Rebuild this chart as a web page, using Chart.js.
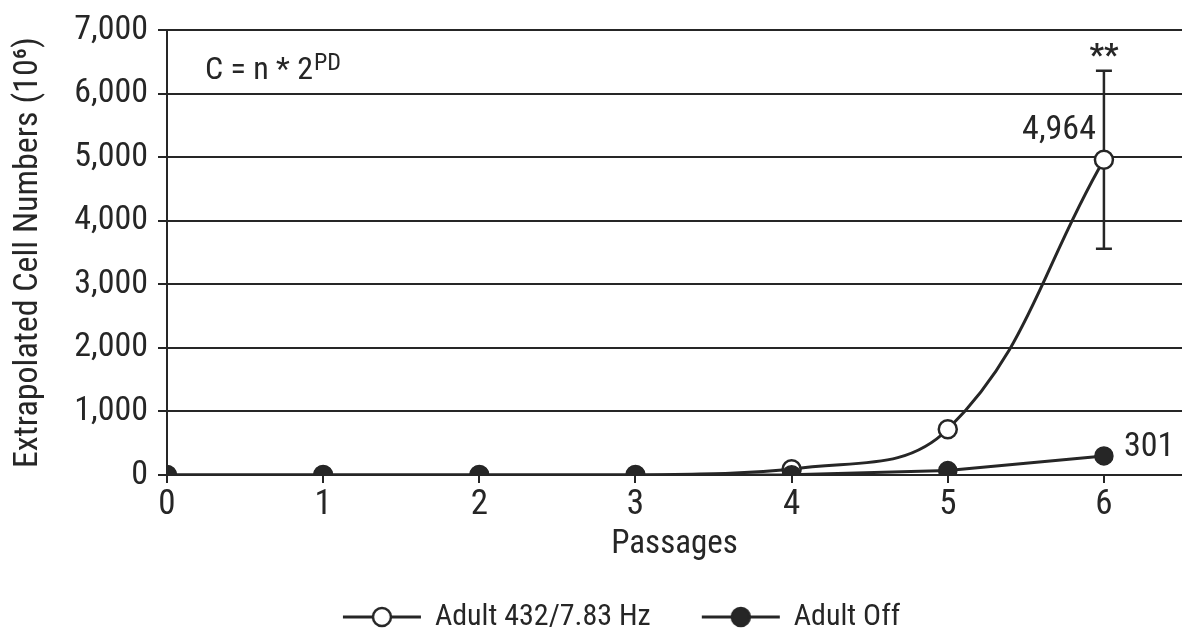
<!DOCTYPE html>
<html>
<head>
<meta charset="utf-8">
<script src="https://cdn.jsdelivr.net/npm/chart.js@4"></script>
<style>
  html, body { margin: 0; padding: 0; background: #fff; }
  #wrap { width: 1182px; height: 642px; overflow: hidden; }
</style>
</head>
<body>
<div id="wrap"><canvas id="c" width="1182" height="642"></canvas></div>
<script>
// Passage numbers and extrapolated cell counts (10^6)
const passages = [0, 1, 2, 3, 4, 5, 6];
const adult432 = [0, 0, 0, 0, 90, 720, 4964];
const adultOff = [0, 0, 0, 0, 5, 70, 301];
const adult432Err = [0, 0, 0, 0, 0, 0, 1400];
const yTicks = [0, 1000, 2000, 3000, 4000, 5000, 6000, 7000];
const labelNames = ['Adult 432/7.83 Hz', 'Adult Off'];

const FONT = '"Roboto Condensed", "DejaVu Sans Condensed", sans-serif';
const INK = '#262626';
const LEGEND_LEFT_INSET = 62;

// line-and-marker glyph used in the legend
function legendSymbol(filled) {
  const cv = document.createElement('canvas');
  cv.width = 80; cv.height = 24;
  const g = cv.getContext('2d');
  g.strokeStyle = INK; g.lineWidth = 3;
  g.beginPath(); g.moveTo(1, 12); g.lineTo(79, 12); g.stroke();
  g.beginPath(); g.arc(40, 12, 9, 0, Math.PI * 2);
  g.fillStyle = filled ? INK : '#fff'; g.fill();
  g.lineWidth = 2.5; g.stroke();
  return cv;
}

// Error bars, point value labels, formula text and legend placement
const extras = {
  id: 'extras',
  afterLayout(chart) {
    const lg = chart.legend;
    if (lg) { lg.left = LEGEND_LEFT_INSET; lg.right = chart.width; }
  },
  beforeDatasetsDraw(chart) {
    const { ctx, scales: { x, y } } = chart;
    ctx.save();
    ctx.strokeStyle = INK; ctx.lineWidth = 2.5;
    adult432Err.forEach((e, i) => {
      if (!e) return;
      const px = x.getPixelForValue(passages[i]);
      const top = y.getPixelForValue(adult432[i] + e);
      const bot = y.getPixelForValue(adult432[i] - e);
      ctx.beginPath();
      ctx.moveTo(px, top); ctx.lineTo(px, bot);
      ctx.moveTo(px - 8, top); ctx.lineTo(px + 8, top);
      ctx.moveTo(px - 8, bot); ctx.lineTo(px + 8, bot);
      ctx.stroke();
    });
    ctx.restore();
  },
  afterDatasetsDraw(chart) {
    const { ctx, scales: { x, y } } = chart;
    ctx.save();
    ctx.fillStyle = INK;
    ctx.textBaseline = 'middle';
    const last = passages.length - 1;
    const px = x.getPixelForValue(passages[last]);
    // value labels
    ctx.font = '34px ' + FONT;
    ctx.textAlign = 'right';
    ctx.fillText(adult432[last].toLocaleString('en-US'), px - 8, y.getPixelForValue(adult432[last]) - 29);
    ctx.textAlign = 'left';
    ctx.fillText(String(adultOff[last]), px + 20, y.getPixelForValue(adultOff[last]) - 8);
    // significance marker
    ctx.textAlign = 'center';
    ctx.font = 'bold 32px ' + FONT;
    ctx.fillText('**', px, y.getPixelForValue(adult432[last] + adult432Err[last]) - 14);
    // formula
    ctx.textAlign = 'left';
    ctx.textBaseline = 'alphabetic';
    ctx.font = '32px ' + FONT;
    const fx = chart.chartArea.left + 38, fy = chart.chartArea.top + 49;
    const base = 'C = n * 2';
    ctx.fillText(base, fx, fy);
    const w = ctx.measureText(base).width;
    ctx.font = '24px ' + FONT;
    ctx.fillText('PD', fx + w + 1, fy - 9);
    ctx.restore();
  }
};

new Chart(document.getElementById('c'), {
  type: 'line',
  data: {
    datasets: [
      {
        label: labelNames[1],
        data: passages.map((p, i) => ({ x: p, y: adultOff[i] })),
        borderColor: INK, backgroundColor: INK,
        borderWidth: 3, tension: 0,
        pointRadius: 9, pointBorderWidth: 1.5,
        pointBackgroundColor: INK, pointBorderColor: INK,
        pointStyle: 'circle'
      },
      {
        label: labelNames[0],
        data: passages.map((p, i) => ({ x: p, y: adult432[i] })),
        borderColor: INK, backgroundColor: '#fff',
        borderWidth: 3, tension: 0.4,
        pointRadius: 9, pointBorderWidth: 2.5,
        pointBackgroundColor: '#fff', pointBorderColor: INK,
        pointStyle: 'circle'
      }
    ]
  },
  options: {
    responsive: false,
    animation: false,
    devicePixelRatio: 1,
    layout: { autoPadding: false, padding: { top: 23, right: 0, left: 0, bottom: 0 } },
    elements: { line: { capBezierPoints: true } },
    plugins: {
      tooltip: { enabled: false },
      legend: {
        position: 'bottom',
        labels: {
          font: { family: FONT, size: 30 },
          color: INK,
          usePointStyle: true,
          pointStyleWidth: 76,
          padding: 52,
          sort: (a, b) => b.datasetIndex - a.datasetIndex,
          generateLabels(chart) {
            return chart.data.datasets.map((ds, i) => ({
              text: ds.label,
              datasetIndex: i,
              pointStyle: legendSymbol(i === 0),
              fontColor: INK,
              lineWidth: 0,
              hidden: false
            }));
          }
        }
      }
    },
    scales: {
      x: {
        type: 'linear',
        min: 0, max: 6.5,
        afterBuildTicks(scale) {
          scale.ticks = passages.map(v => ({ value: v }));
        },
        afterFit(scale) { scale.height = 75; },
        grid: { display: true, drawOnChartArea: false, drawTicks: true, tickLength: 8, color: INK, lineWidth: 2 },
        border: { display: false },
        ticks: { font: { family: FONT, size: 35 }, color: INK, padding: 1, maxRotation: 0, autoSkip: false },
        title: { display: true, text: 'Passages', font: { family: FONT, size: 33 }, color: INK, padding: { top: 0, bottom: -15 } }
      },
      y: {
        type: 'linear',
        min: 0, max: 7000,
        afterBuildTicks(scale) {
          scale.ticks = yTicks.map(v => ({ value: v }));
        },
        afterFit(scale) { scale.width = 167; },
        grid: { color: INK, lineWidth: 2, tickLength: 9 },
        border: { display: true, color: INK, width: 2 },
        ticks: {
          font: { family: FONT, size: 34 }, color: INK, padding: 10,
          callback: v => v.toLocaleString('en-US')
        },
        title: {
          display: true, align: 'center',
          text: 'Extrapolated Cell Numbers (10\u2076)',
          font: { family: FONT, size: 34 }, color: INK, padding: { top: 8, bottom: 0 }
        }
      }
    }
  },
  plugins: [extras]
});
</script>
</body>
</html>
